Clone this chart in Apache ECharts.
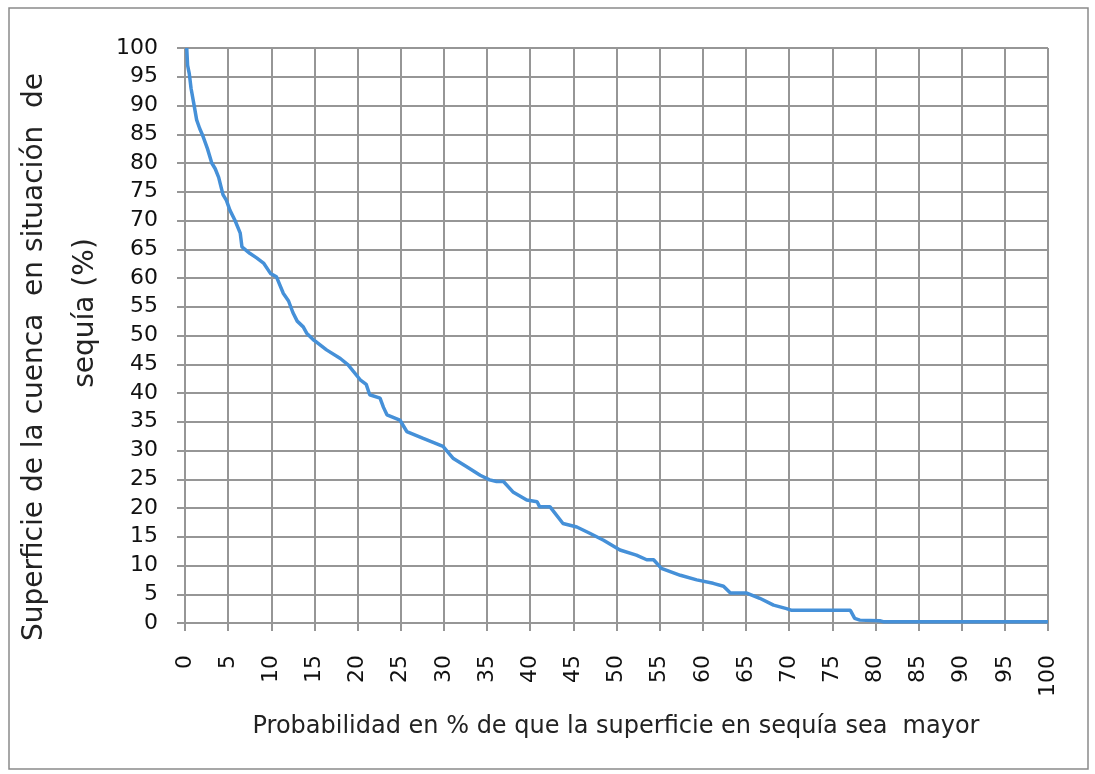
<!DOCTYPE html>
<html>
<head>
<meta charset="utf-8">
<script src="https://cdn.jsdelivr.net/npm/echarts@6/dist/echarts.min.js"></script>
<style>
html,body{margin:0;padding:0;background:#fff;}
#chart{width:1095px;height:774px;}
</style>
</head>
<body>
<div id="chart"></div>
<script>
// Probability (%) that the drought area is exceeded
const probX = [0.2,0.3,0.5,0.7,1.0,1.35,1.7,2.1,2.6,3.1,3.5,3.9,4.4,4.8,5.2,5.8,6.4,6.6,7.5,8.3,9.1,9.9,10.6,11.4,12.0,12.5,13.0,13.7,14.1,14.9,15.2,16.4,18.0,18.9,20.3,21.0,21.4,22.6,23.0,23.4,24.9,25.7,27.6,29.9,31.1,32.6,34.2,35.3,36.1,36.9,38.0,39.6,40.8,41.1,42.3,43.8,45.4,46.9,48.5,50.4,52.3,53.5,54.3,55.2,57.4,59.3,61.2,62.4,63.2,65.1,66.6,68.2,69.7,70.3,77.1,77.6,78.2,80.5,81,100];
// Basin area in drought (%)
const areaY = [100,97,95.5,93,90.5,87.5,86,84.6,82.5,80,79,77.5,74.5,73.5,71.8,70,67.8,65.4,64.3,63.5,62.6,60.8,60.2,57.3,56,54,52.5,51.5,50.4,49.2,48.9,47.5,46.0,44.9,42.3,41.5,39.7,39.1,37.5,36.2,35.3,33.3,32.1,30.7,28.6,27.2,25.7,24.9,24.6,24.6,22.8,21.4,21.1,20.2,20.2,17.3,16.7,15.6,14.4,12.7,11.8,11.0,11.0,9.5,8.3,7.5,6.9,6.4,5.2,5.2,4.3,3.1,2.5,2.2,2.2,0.8,0.5,0.4,0.2,0.2];
const xTitle = 'Probabilidad en % de que la superficie en sequía sea  mayor';
const yTitle1 = 'Superficie de la cuenca  en situación  de';
const yTitle2 = 'sequía (%)';

const points = probX.map((x, i) => [x, areaY[i]]);
const gridColor = '#969696';
const font = 'DejaVu Sans';

const chart = echarts.init(document.getElementById('chart'));
chart.setOption({
  backgroundColor: '#fff',
  animation: false,
  grid: {left: 185, right: 47, top: 48, bottom: 151},
  xAxis: {
    type: 'value', min: 0, max: 100, interval: 5,
    axisLine: {show: true, lineStyle: {color: gridColor, width: 2}},
    axisTick: {show: true, length: 8, lineStyle: {color: gridColor, width: 2}},
    splitLine: {show: true, lineStyle: {color: gridColor, width: 2}},
    axisLabel: {rotate: 90, margin: 32, color: '#111', fontFamily: font, fontSize: 22}
  },
  yAxis: {
    type: 'value', min: 0, max: 100, interval: 5,
    axisLine: {show: true, lineStyle: {color: gridColor, width: 2}},
    axisTick: {show: true, length: 8, lineStyle: {color: gridColor, width: 2}},
    splitLine: {show: true, lineStyle: {color: gridColor, width: 2}},
    axisLabel: {margin: 27, color: '#111', fontFamily: font, fontSize: 22}
  },
  series: [{
    type: 'line',
    data: points,
    showSymbol: false,
    lineStyle: {color: '#4590d8', width: 3.5},
    itemStyle: {color: '#4590d8'}
  }],
  graphic: [
    {type: 'rect', shape: {x: 9, y: 8, width: 1079, height: 761},
     style: {fill: 'none', stroke: '#8a8a8a', lineWidth: 1.5}, silent: true},
    {type: 'text', x: 616, y: 727,
     style: {text: xTitle, fontFamily: font, fontSize: 24, fill: '#222', align: 'center', verticalAlign: 'middle'}},
    {type: 'text', x: 35, y: 357, rotation: Math.PI / 2,
     style: {text: yTitle1, fontFamily: font, fontSize: 28, fill: '#222', align: 'center', verticalAlign: 'middle'}},
    {type: 'text', x: 86, y: 313, rotation: Math.PI / 2,
     style: {text: yTitle2, fontFamily: font, fontSize: 28, fill: '#222', align: 'center', verticalAlign: 'middle'}}
  ]
});
</script>
</body>
</html>
